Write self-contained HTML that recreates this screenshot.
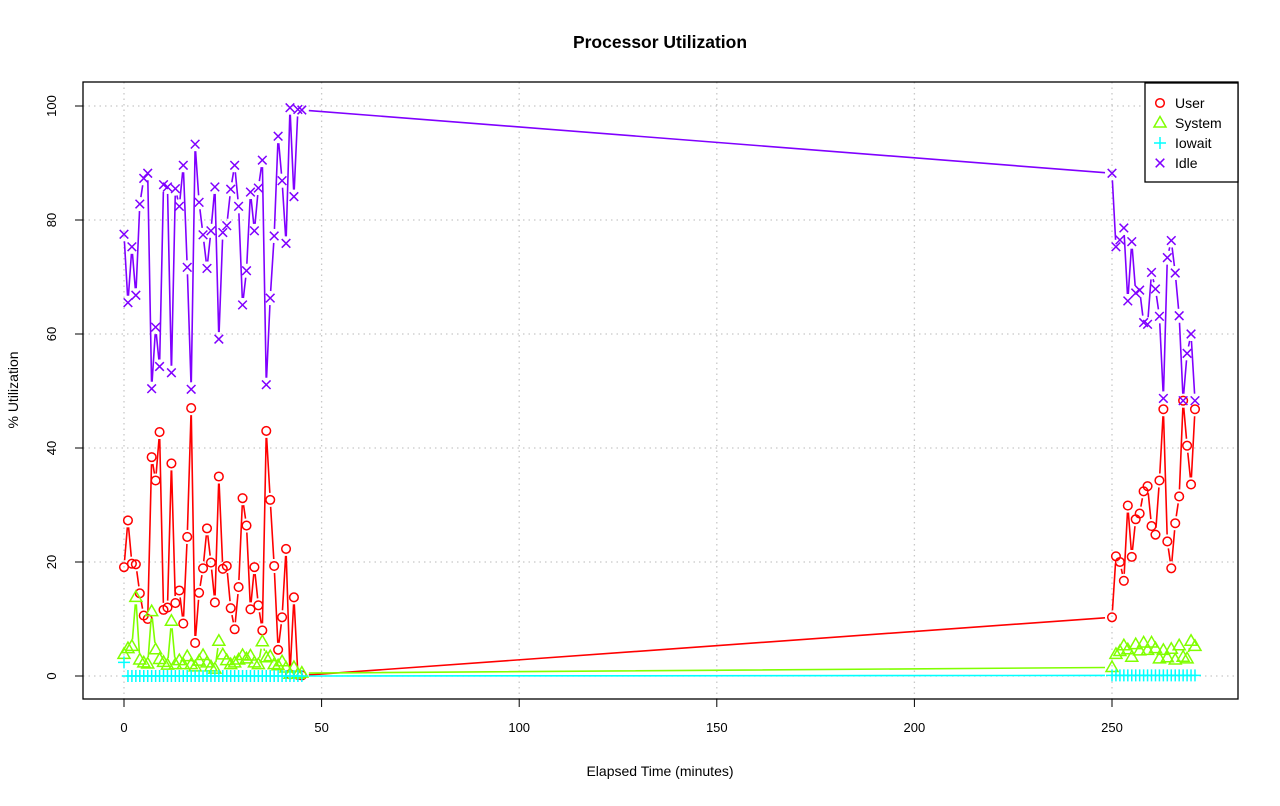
<!DOCTYPE html>
<html><head><meta charset="utf-8"><style>
body{margin:0;background:#fff;}
svg text{font-family:"Liberation Sans",sans-serif;}
</style></head><body>
<svg id="chart" width="1280" height="801" viewBox="0 0 1280 801" xmlns="http://www.w3.org/2000/svg">
<rect x="0" y="0" width="1280" height="801" fill="#fff"/>
<text x="660" y="48" text-anchor="middle" font-size="17.5" font-weight="bold">Processor Utilization</text>
<text x="660" y="776" text-anchor="middle" font-size="14">Elapsed Time (minutes)</text>
<text transform="translate(18,390) rotate(-90)" text-anchor="middle" font-size="14">% Utilization</text>
<g id="grid"></g><g id="axes"></g><g id="series"></g>
<rect x="83" y="82" width="1155" height="617" fill="none" stroke="#000" stroke-width="1.3"/>
<g id="legend"></g>
</svg>
<script>
const timesA = [];for(let i=0;i<=45;i++)timesA.push(i);
const timesB = [];for(let i=250;i<=271;i++)timesB.push(i);
const userA=[19.1,27.3,19.7,19.6,14.5,10.6,10.0,38.4,34.3,42.8,11.6,12.0,37.3,12.8,15.0,9.2,24.4,47.0,5.8,14.6,18.9,25.9,19.9,12.9,35.0,18.8,19.3,11.9,8.2,15.6,31.2,26.4,11.7,19.1,12.4,8.0,43.0,30.9,19.3,4.6,10.3,22.3,0.3,13.8,0.2,0.1];
const userB=[10.3,21.0,20.0,16.7,29.9,20.9,27.5,28.5,32.4,33.3,26.3,24.8,34.3,46.8,23.6,18.9,26.8,31.5,48.3,40.4,33.6,46.8];
const systemA=[3.8,4.8,5.2,13.8,2.8,2.3,2.1,11.3,4.6,2.9,2.4,1.9,9.6,2.0,2.7,2.0,3.4,2.0,1.6,2.6,3.6,2.3,1.6,1.2,6.1,3.7,2.7,2.0,2.3,2.8,3.6,3.0,3.5,2.3,2.0,6.0,3.2,3.4,2.0,1.8,2.5,1.4,0.3,1.5,0.3,0.5];
const systemB=[1.5,3.8,4.3,5.3,4.6,3.3,5.5,4.4,5.8,4.5,5.8,4.8,3.0,4.5,3.2,4.7,2.8,5.3,3.3,3.0,6.1,5.2];
const iowaitA=[2.4,0,0,0,0,0,0,0,0,0,0,0,0,0,0,0,0,0,0,0,0,0,0,0,0,0,0,0,0,0,0,0,0,0,0,0,0,0,0,0,0,0,0,0,0,0];
const iowaitB=[0.1,0.1,0.1,0.1,0.1,0.1,0.1,0.1,0.1,0.1,0.1,0.1,0.1,0.1,0.1,0.1,0.1,0.1,0.1,0.1,0.1,0.1];
const idleA=[77.5,65.5,75.3,66.8,82.8,87.3,88.2,50.4,61.2,54.3,86.2,85.8,53.2,85.5,82.4,89.6,71.7,50.3,93.3,83.1,77.4,71.5,78.1,85.8,59.1,77.8,79.0,85.4,89.6,82.4,65.1,71.1,84.9,78.1,85.6,90.5,51.1,66.3,77.2,94.7,86.9,75.9,99.7,84.1,99.4,99.3];
const idleB=[88.2,75.3,76.5,78.6,65.8,76.2,67.2,67.7,62.0,61.7,70.8,67.9,63.1,48.7,73.4,76.4,70.7,63.2,48.3,56.6,60.0,48.3];
const xTicks=[0,50,100,150,200,250];
const yTicks=[0,20,40,60,80,100];
const seriesNames=["User","System","Iowait","Idle"];
const colors=["#ff0000","#80ff00","#00ffff","#8000ff"];

const NS="http://www.w3.org/2000/svg";
const X=v=>124+v*3.952;
const Y=v=>676-v*5.7;
function mk(tag,attrs,parent){const e=document.createElementNS(NS,tag);for(const k in attrs)e.setAttribute(k,attrs[k]);parent.appendChild(e);return e;}
const grid=document.getElementById('grid'),axes=document.getElementById('axes'),ser=document.getElementById('series'),leg=document.getElementById('legend');
xTicks.forEach(t=>{
 const g=mk('line',{x1:X(t),x2:X(t),y1:82,y2:699,stroke:'#c8c8c8','stroke-dasharray':'1.5,4','stroke-width':1.3},grid);
 
 const tk=mk('line',{x1:X(t),x2:X(t),y1:699,y2:707,stroke:'#000'},axes);
 
 const tx=mk('text',{x:X(t),y:732,'text-anchor':'middle','font-size':13},axes);tx.textContent=t;
 
});
mk('line',{x1:X(0),x2:X(250),y1:699,y2:699,stroke:'#000'},axes);
yTicks.forEach(t=>{
 const g=mk('line',{x1:83,x2:1238,y1:Y(t),y2:Y(t),stroke:'#c8c8c8','stroke-dasharray':'1.5,4','stroke-width':1.3},grid);
 
 const tk=mk('line',{x1:75,x2:83,y1:Y(t),y2:Y(t),stroke:'#000'},axes);
 
 const tx=mk('text',{transform:`translate(56,${Y(t)}) rotate(-90)`,'text-anchor':'middle','font-size':13},axes);tx.textContent=t;
 
});
function marker(type,cx,cy,col,parent){
 let e;
 if(type===0)e=mk('circle',{cx,cy,r:4.3,fill:'none',stroke:col,'stroke-width':1.5},parent);
 else if(type===1)e=mk('polygon',{points:`${cx},${cy-6.5} ${cx-6},${cy+4} ${cx+6},${cy+4}`,fill:'none',stroke:col,'stroke-width':1.5},parent);
 else if(type===2)e=mk('path',{d:`M${cx-6},${cy}H${cx+6}M${cx},${cy-6}V${cy+6}`,stroke:col,'stroke-width':1.5},parent);
 else e=mk('path',{d:`M${cx-4.3},${cy-4.3}L${cx+4.3},${cy+4.3}M${cx-4.3},${cy+4.3}L${cx+4.3},${cy-4.3}`,stroke:col,'stroke-width':1.5},parent);
 return e;
}
const allData=[[userA,userB],[systemA,systemB],[iowaitA,iowaitB],[idleA,idleB]];
const times=timesA.concat(timesB);
allData.forEach((pair,si)=>{
 const vals=pair[0].concat(pair[1]);const col=colors[si];
 const g=mk('g',{},ser);
 let d='';
 for(let i=0;i<vals.length-1;i++){
  const x1=X(times[i]),y1=Y(vals[i]),x2=X(times[i+1]),y2=Y(vals[i+1]);
  const L=Math.hypot(x2-x1,y2-y1),gap=7;
  if(L>2*gap){const ux=(x2-x1)/L,uy=(y2-y1)/L;
   d+=`M${x1+ux*gap},${y1+uy*gap}L${x2-ux*gap},${y2-uy*gap}`;}
 }
 const p=mk('path',{d,stroke:col,'stroke-width':1.6,fill:'none'},g);
 
 vals.forEach((v,i)=>{const m=marker(si,X(times[i]),Y(v),col,g);
  });
});
const box=mk('rect',{x:1145,y:83,width:93,height:99,fill:'#fff',stroke:'#000','stroke-width':1.3},leg);

seriesNames.forEach((n,i)=>{const y=103+i*20;
 const m=marker(i,1160,y,colors[i],leg);
 const t=mk('text',{x:1175,y:y+5,'font-size':14},leg);t.textContent=n;
 });
</script>
</body></html>
